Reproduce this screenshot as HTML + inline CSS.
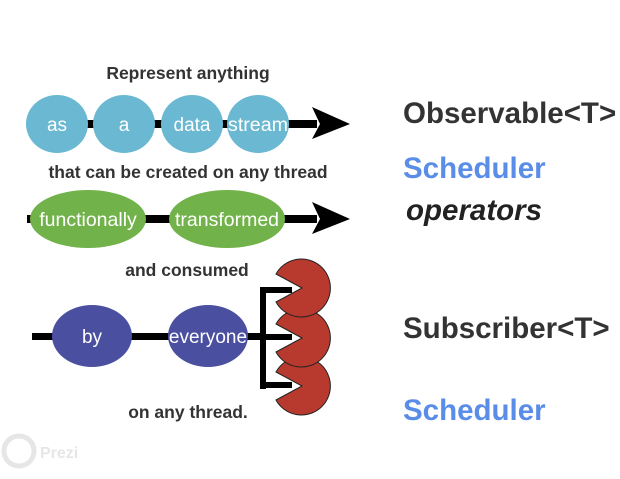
<!DOCTYPE html>
<html><head><style>body{margin:0;background:#fff}svg{display:block}</style></head><body>
<svg width="620" height="479" xmlns="http://www.w3.org/2000/svg" font-family="Liberation Sans, sans-serif">
<rect width="620" height="479" fill="#fff"/>
<g font-weight="bold" fill="#333" font-size="17.5" text-anchor="middle">
<text x="188" y="79">Represent anything</text>
<text x="188" y="178">that can be created on any thread</text>
<text x="187" y="276">and consumed</text>
<text x="188" y="418">on any thread.</text>
</g>
<rect x="27" y="120" width="290" height="8" fill="#000"/>
<polygon points="312,107 350,124 312,139 320,124" fill="#000"/>
<g fill="#6bb8d2">
<ellipse cx="57" cy="124" rx="31" ry="29"/><ellipse cx="124" cy="124" rx="31" ry="29"/>
<ellipse cx="192" cy="124" rx="31" ry="29"/><ellipse cx="258" cy="124" rx="31" ry="29"/>
</g>
<g fill="#fff" font-size="19" text-anchor="middle">
<text x="57" y="131">as</text><text x="124" y="131">a</text><text x="192" y="131">data</text><text x="258" y="131" textLength="60" lengthAdjust="spacingAndGlyphs">stream</text>
</g>
<rect x="27" y="215" width="290" height="8" fill="#000"/>
<polygon points="312,202 350,219 312,234 320,219" fill="#000"/>
<g fill="#72b24a"><ellipse cx="88" cy="219" rx="58" ry="29"/><ellipse cx="227" cy="219" rx="58" ry="29"/></g>
<g fill="#fff" font-size="19.5" text-anchor="middle"><text x="88" y="226">functionally</text><text x="227" y="226">transformed</text></g>
<rect x="32" y="333" width="232" height="7" fill="#000"/>
<rect x="260" y="287" width="6" height="102" fill="#000"/>
<rect x="260" y="287" width="32" height="6" fill="#000"/>
<rect x="260" y="334" width="32" height="6" fill="#000"/>
<rect x="260" y="382" width="32" height="6" fill="#000"/>
<g fill="#4a4fa0"><ellipse cx="92" cy="336" rx="40" ry="31"/><ellipse cx="208" cy="336" rx="40" ry="31"/></g>
<g fill="#fff" font-size="19" text-anchor="middle"><text x="92" y="343">by</text><text x="208" y="343">everyone</text></g>
<g fill="#b83a2e" stroke="#222" stroke-width="1">
<path d="M302,386 L276,372 A29,29 0 1 1 276,400 Z"/>
<path d="M302,338 L276,324 A29,29 0 1 1 276,352 Z"/>
<path d="M302,288 L276,274 A29,29 0 1 1 276,302 Z"/>
</g>
<g font-weight="bold" font-size="29.5">
<text x="403" y="123" fill="#333">Observable&lt;T&gt;</text>
<text x="403" y="178" fill="#5a8de8">Scheduler</text>
<text x="406" y="220" fill="#222" font-style="italic">operators</text>
<text x="403" y="338" fill="#333">Subscriber&lt;T&gt;</text>
<text x="403" y="420" fill="#5a8de8">Scheduler</text>
</g>
<circle cx="19" cy="451" r="15" fill="none" stroke="#e6e6e6" stroke-width="5"/>
<text x="40" y="458" font-size="16" font-weight="bold" fill="#e6e6e6">Prezi</text>
</svg>
</body></html>
